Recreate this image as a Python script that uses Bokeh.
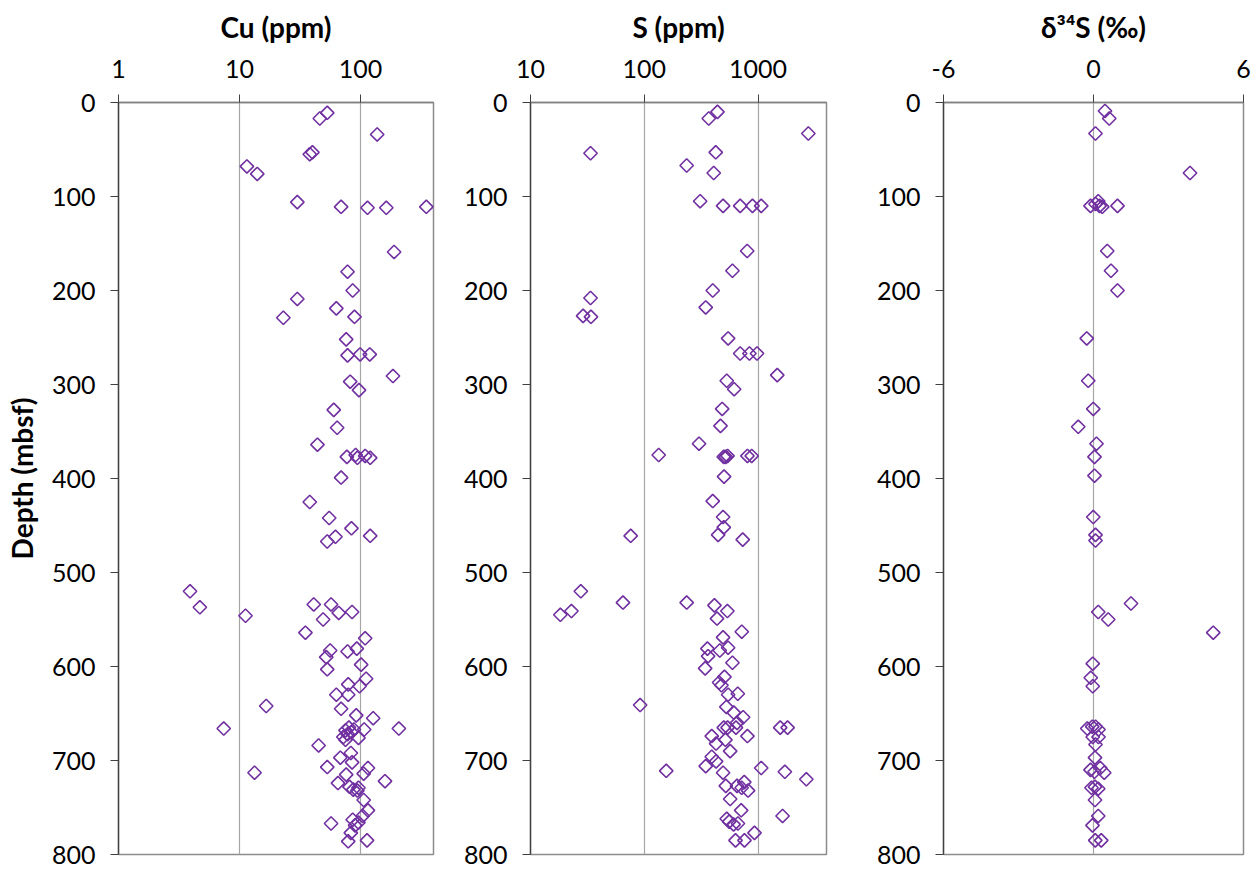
import numpy as np
from bokeh.plotting import figure
from bokeh.layouts import row
from bokeh.models import Range1d, FixedTicker, PrintfTickFormatter
from bokeh.embed import file_html
from bokeh.resources import INLINE

# ---------------- data ----------------
cu_depth = [11, 17, 34, 53, 55, 68, 76, 106, 111, 112, 112, 111, 159, 180, 200, 209,
            219, 229, 228, 252, 269, 268, 268, 291, 297, 306, 327, 346, 364, 377, 375,
            378, 376, 378, 399, 425, 442, 453, 461, 462, 467, 520, 537, 546, 534, 534,
            543, 542, 550, 564, 570, 583, 584, 581, 590, 598, 603, 613, 619, 621, 630,
            630, 645, 642, 652, 655, 666, 666, 668, 665, 670, 667, 672, 667, 676, 678,
            675, 684, 692, 697, 702, 707, 708, 714, 713, 715, 724, 722, 728, 731, 729,
            732, 742, 753, 759, 767, 763, 766, 769, 777, 786, 785]
cu_ppm = [53, 46, 137, 40, 38, 11.5, 14, 30, 69, 114, 163, 349, 189, 78, 86, 30,
          63, 23, 89, 76, 78, 99, 119, 185, 82, 97, 60, 64, 44, 77, 91,
          94, 109, 120, 69, 38, 55, 84, 120, 62, 53, 3.9, 4.7, 11.2, 41, 57,
          66, 85, 49, 35, 109, 56, 78, 93, 52, 101, 53, 111, 79, 98, 63,
          79, 69, 16.6, 92, 127, 7.4, 207, 75, 80, 84, 88, 78, 107, 96, 75,
          72, 45, 83, 68, 85, 53, 115, 106, 13.3, 76, 65, 159, 81, 87, 96,
          94, 106, 115, 104, 57, 86, 96, 90, 83, 79, 113]

s_depth = [10, 17, 33, 54, 53, 67, 75, 105, 110, 110, 110, 110, 158, 179, 200, 208,
           218, 227, 228, 251, 267, 267, 267, 290, 296, 305, 326, 344, 363, 375, 377,
           377, 376, 376, 376, 398, 424, 441, 452, 460, 461, 465, 520, 532, 532, 535,
           541, 545, 541, 549, 563, 569, 581, 583, 580, 589, 596, 602, 611, 617, 620,
           630, 629, 641, 643, 649, 654, 660, 665, 665, 665, 665, 665, 674, 674, 678,
           682, 690, 696, 701, 706, 711, 713, 708, 712, 720, 727, 727, 723, 729, 732,
           741, 753, 759, 762, 765, 768, 767, 777, 785, 785]
s_ppm = [440, 369, 2770, 33.7, 425, 236, 408, 310, 493, 697, 894, 1067, 803, 596, 400, 33.7,
         347, 29, 34, 546, 697, 840, 980, 1476, 531, 617, 484, 468, 303, 134, 500,
         520, 540, 807, 880, 503, 400, 493, 500, 446, 76, 734, 27.7, 65, 236, 414,
         538, 18.3, 22.9, 436, 720, 493, 359, 461, 546, 364, 596, 343, 507, 455, 477,
         546, 664, 92, 527, 612, 740, 654, 500, 540, 640, 1567, 1820, 392, 807, 517,
         428, 569, 392, 428, 347, 156, 493, 1067, 1722, 2660, 521, 654, 757, 718, 818,
         569, 711, 1644, 531, 558, 610, 666, 931, 634, 760]

d34s_depth = [9, 17, 33, 75, 110, 108, 105, 110, 111, 110, 158, 179, 200, 251, 296, 326,
              345, 363, 377, 397, 441, 460, 466, 533, 542, 550, 564, 597, 612, 621,
              666, 664, 664, 667, 675, 675, 683, 697, 710, 708, 713, 712, 729, 730, 728,
              742, 759, 769, 785, 785]
d34s_permil = [0.46, 0.63, 0.08, 3.86, -0.12, 0.08, 0.19, 0.24, 0.35, 0.96, 0.55, 0.70, 0.96,
               -0.27, -0.21, -0.01, -0.61, 0.12, 0.04, 0.04, -0.01, 0.08, 0.08, 1.50, 0.19,
               0.59, 4.79, -0.03, -0.11, -0.03, -0.25, -0.05, 0.08, 0.20, -0.03, 0.20, 0.08,
               0.06, -0.12, 0.27, 0.43, 0.04, -0.08, 0.19, 0.06, 0.06, 0.19, -0.04, 0.07, 0.31]

depth_ticks = [0, 100, 200, 300, 400, 500, 600, 700, 800]
cu_ticks = [1, 10, 100]
s_ticks = [10, 100, 1000]
d34s_ticks = [-6, 0, 6]

# ---------------- styling ----------------
FONT = "Lato"
PURPLE = "#7030A0"
TICK_SIZE = "25px"
TITLE_SIZE = "28px"
FRAME_H = 752
TOP = 102
BOTTOM = 17


def make_panel(x_type, x_start, x_end, ticks, left, frame_w, right, title_text):
    p = figure(x_axis_type=x_type, x_range=Range1d(x_start, x_end),
               y_range=Range1d(800, 0), x_axis_location="above",
               frame_width=frame_w, frame_height=FRAME_H,
               width=left + frame_w + right, height=TOP + FRAME_H + BOTTOM,
               min_border_left=left, min_border_right=right,
               min_border_top=TOP, min_border_bottom=BOTTOM,
               output_backend="svg", toolbar_location=None, title=None)
    p.background_fill_color = "white"
    p.border_fill_color = "white"
    p.outline_line_color = "#8c8c8c"
    p.outline_line_width = 1.5

    xa = p.xaxis[0]
    xa.ticker = FixedTicker(ticks=ticks)
    xa.formatter = PrintfTickFormatter(format="%d")
    xa.minor_tick_line_color = None
    xa.major_tick_out = 8
    xa.major_tick_in = 0
    xa.major_tick_line_color = "#404040"
    xa.axis_line_color = "#808080"
    xa.axis_line_width = 1.3
    xa.major_label_text_font = FONT
    xa.major_label_text_font_size = TICK_SIZE
    xa.major_label_text_color = "#000000"
    xa.major_label_standoff = 17
    xa.axis_label = title_text
    xa.axis_label_text_font = FONT
    xa.axis_label_text_font_size = TITLE_SIZE
    xa.axis_label_text_font_style = "bold"
    xa.axis_label_text_color = "#000000"
    xa.axis_label_standoff = 13

    ya = p.yaxis[0]
    ya.ticker = FixedTicker(ticks=depth_ticks)
    ya.minor_tick_line_color = None
    ya.major_tick_out = 8
    ya.major_tick_in = 0
    ya.major_tick_line_color = "#404040"
    ya.axis_line_color = "#404040"
    ya.axis_line_width = 1.3
    ya.major_label_text_font = FONT
    ya.major_label_text_font_size = TICK_SIZE
    ya.major_label_text_color = "#000000"
    ya.major_label_standoff = 15

    p.ygrid.visible = False
    p.xgrid.grid_line_color = "#a6a6a6"
    p.xgrid.grid_line_width = 1.2
    p.xgrid.minor_grid_line_color = None
    return p


def add_points(p, x, y):
    p.scatter(x, y, marker="square", size=9.5, angle=np.pi / 4,
              fill_color=None, line_color=PURPLE, line_width=1.6)


p1 = make_panel("log", 1, 400, cu_ticks, 118, 315, 27, "Cu (ppm)")
p1.yaxis[0].axis_label = "Depth (mbsf)"
p1.yaxis[0].axis_label_text_font = FONT
p1.yaxis[0].axis_label_text_font_size = TITLE_SIZE
p1.yaxis[0].axis_label_text_font_style = "bold"
p1.yaxis[0].axis_label_text_color = "#000000"
p1.yaxis[0].axis_label_standoff = 10
add_points(p1, cu_ppm, cu_depth)

p2 = make_panel("log", 10, 4000, s_ticks, 68, 296, 22, "S (ppm)")
add_points(p2, s_ppm, s_depth)

p3 = make_panel("linear", -6, 6, d34s_ticks, 95, 300, 18, "δ³⁴S (‰)")
add_points(p3, d34s_permil, d34s_depth)

layout = row(p1, p2, p3)
open("out.html", "w").write(file_html(layout, INLINE))
